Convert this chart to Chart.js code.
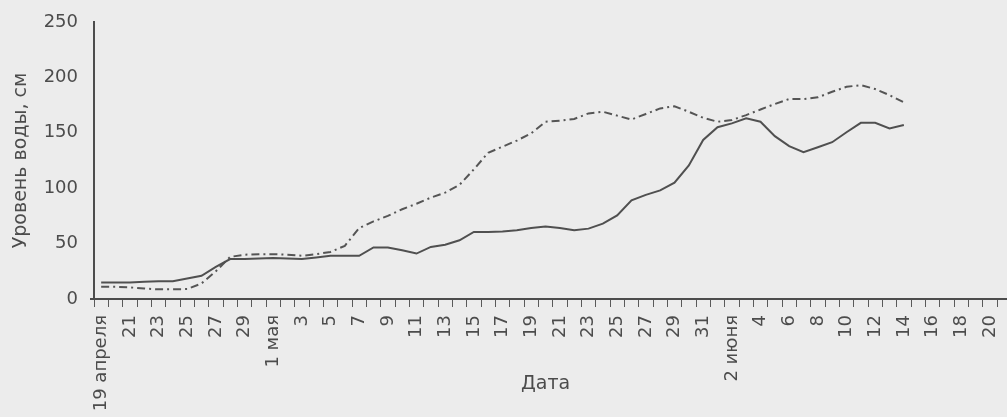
<!DOCTYPE html>
<html lang="ru">
<head>
<meta charset="utf-8">
<title>Уровень воды</title>
<script src="https://cdn.jsdelivr.net/npm/chart.js@4/dist/chart.umd.min.js"></script>
<style>
  html, body { margin: 0; padding: 0; background: #ececec; }
  #wrap { width: 1007px; height: 417px; position: relative; }
</style>
</head>
<body>
<div id="wrap"><canvas id="chart"></canvas></div>
<script>
// ======= Даты (19 апреля – 20 июня) =======
const categories = [
  '19 апреля', '20', '21', '22', '23', '24', '25', '26', '27', '28', '29', '30',
  '1 мая', '2', '3', '4', '5', '6', '7', '8', '9', '10', '11', '12', '13', '14', '15', '16',
  '17', '18', '19', '20', '21', '22', '23', '24', '25', '26', '27', '28', '29', '30', '31',
  '1 июня', '2 июня', '3', '4', '5', '6', '7', '8', '9', '10', '11', '12', '13', '14', '15',
  '16', '17', '18', '19', '20'
];

// ======= Уровень воды, см (сплошная линия) =======
const levelSolid = [
  15, 15, 15, 15.5, 16, 16, 18.5, 21, 29, 36,
  36, 36.5, 37, 36.5, 36, 37.5, 39, 39, 39, 46.5,
  46.5, 44, 41, 47, 49, 53, 60.5, 60.5, 61, 62,
  64, 65.5, 64, 62, 63.5, 68, 75.5, 89, 94, 98,
  105, 120.5, 143.5, 155, 158.5, 163, 160, 147, 138, 132.5,
  137, 141.5, 150.5, 159, 159, 154, 157
];

// ======= Уровень воды, см (штрихпунктир) =======
const levelDashDot = [
  11, 11, 10.5, 9.5, 8.7, 8.7, 9, 14, 25, 38,
  40, 40.5, 40.5, 40, 39, 40.5, 42.5, 48, 64, 70,
  75, 81, 86, 91.5, 96, 103, 117, 132, 137.5, 143,
  149.5, 160, 161, 162.5, 167.5, 169, 165.5, 162, 167, 172,
  174, 169, 163.5, 160, 161.5, 166, 171, 176, 180.5, 180.5,
  182, 187, 191.5, 193, 189.5, 184, 177.5
];

const yTicks = [0, 50, 100, 150, 200, 250];

const ink = '#4c4c4c';
const fontFamily = "'DejaVu Sans', sans-serif";

// фон "бумаги" и ось X до самого края
const paper = {
  id: 'paper',
  beforeDraw(chart) {
    const {ctx, width, height} = chart;
    ctx.save();
    ctx.fillStyle = '#ececec';
    ctx.fillRect(0, 0, width, height);
    ctx.restore();
  },
  afterDraw(chart) {
    const {ctx, chartArea, width} = chart;
    ctx.save();
    ctx.strokeStyle = ink;
    ctx.lineWidth = 2;
    ctx.beginPath();
    ctx.moveTo(chartArea.left - 4, chartArea.bottom);
    ctx.lineTo(width, chartArea.bottom);
    ctx.stroke();
    ctx.restore();
  }
};

new Chart(document.getElementById('chart'), {
  type: 'line',
  data: {
    labels: categories,
    datasets: [
      {
        label: 'Сплошная',
        data: levelSolid,
        borderColor: '#505050',
        borderWidth: 2,
        pointRadius: 0,
        tension: 0,
        fill: false
      },
      {
        label: 'Штрихпунктир',
        data: levelDashDot,
        borderColor: '#555555',
        borderWidth: 2,
        borderDash: [8, 4, 2, 4],
        pointRadius: 0,
        tension: 0,
        fill: false
      }
    ]
  },
  options: {
    responsive: true,
    maintainAspectRatio: false,
    animation: false,
    layout: { padding: { top: 22, right: 10, bottom: 0, left: 0 } },
    plugins: {
      legend: { display: false },
      tooltip: { enabled: false }
    },
    scales: {
      x: {
        offset: true,
        grid: {
          display: true,
          offset: true,
          drawOnChartArea: false,
          drawTicks: true,
          tickLength: 8,
          tickColor: '#5a5a5a',
          tickWidth: 1
        },
        border: { display: true, color: ink, width: 2 },
        ticks: {
          autoSkip: false,
          maxRotation: 90,
          minRotation: 90,
          padding: 8,
          color: ink,
          font: { family: fontFamily, size: 18 },
          callback: (v, i) => (i % 2 === 0 ? categories[i] : '')
        },
        title: {
          display: true,
          text: 'Дата',
          color: ink,
          font: { family: fontFamily, size: 19 },
          padding: { top: 0, bottom: 22 }
        },
        afterFit: (scale) => {
          scale.height = 118;
          scale.paddingLeft = 0;
          scale.paddingRight = 0;
        }
      },
      y: {
        min: 0,
        max: 250,
        afterBuildTicks: (scale) => { scale.ticks = yTicks.map(v => ({value: v})); },
        grid: { display: true, drawOnChartArea: false, drawTicks: false },
        border: { display: true, color: ink, width: 2 },
        ticks: {
          padding: 16,
          color: ink,
          font: { family: fontFamily, size: 18 }
        },
        title: {
          display: true,
          text: 'Уровень воды, см',
          color: ink,
          font: { family: fontFamily, size: 19 },
          padding: { top: 10, bottom: 0 }
        },
        afterFit: (scale) => {
          scale.width = 94;
          scale.paddingTop = 0;
          scale.paddingBottom = 0;
        }
      }
    }
  },
  plugins: [paper]
});
</script>
</body>
</html>
